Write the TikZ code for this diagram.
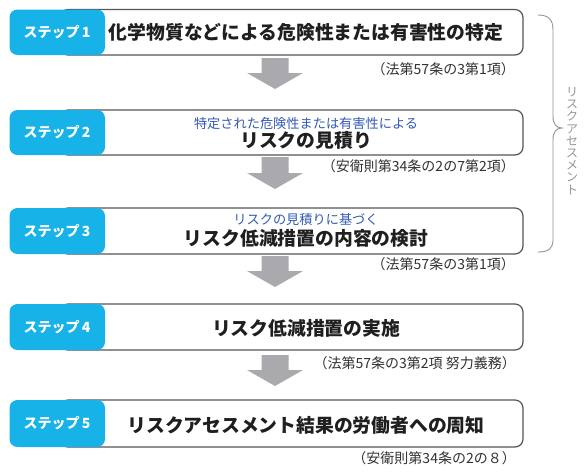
\documentclass[tikz,border=0pt]{standalone}
\usepackage{fontspec}
\setmainfont{Noto Sans CJK JP}
\definecolor{stepblue}{RGB}{22,178,232}
\definecolor{subblue}{RGB}{50,90,180}
\definecolor{arrowgray}{RGB}{170,170,174}
\definecolor{boxline}{RGB}{85,85,90}
\definecolor{notegray}{RGB}{50,50,50}
\definecolor{bracegray}{RGB}{150,150,150}
\tikzset{
  stepbox/.style={fill=stepblue, rounded corners=8pt},
  stepnum/.style={text=white, font=\bfseries\fontsize{14}{16}\selectfont, inner sep=0pt},
  titlebox/.style={draw=boxline, line width=1.2pt, fill=white, rounded corners=8pt},
  titletext/.style={font=\bfseries\fontsize{18.8}{20}\selectfont, text=black!88, inner sep=0pt},
  subtext/.style={font=\fontsize{13.2}{15}\selectfont, text=subblue, inner sep=0pt},
  notetext/.style={font=\fontsize{14}{16}\selectfont, text=notegray, inner sep=0pt, anchor=east},
  downarrow/.style={fill=arrowgray},
}
\newcommand{\stepdraw}[3]{%
  \draw[titlebox] (60,#1) rectangle (523,#2);
  \fill[stepbox] (9.5,#1) rectangle (105,#2);
  \node[stepnum] (#3) at (57,{(#1+#2)/2}) {ステップ\,#3};
}
\newcommand{\arrowdraw}[3]{%
  \coordinate (#3) at (275,#1);
  \fill[downarrow] ($(#3)+(-13.5,0)$) -- ($(#3)+(13.5,0)$) -- ($(#3)+(13.5,#2-#1-16)$) -- ($(#3)+(28,#2-#1-16)$) -- ($(#3)+(0,#2-#1)$) -- ($(#3)+(-28,#2-#1-16)$) -- ($(#3)+(-13.5,#2-#1-16)$) -- cycle;
}
\usetikzlibrary{calc}
\begin{document}
\begin{tikzpicture}[x=1pt,y=-1pt]
\useasboundingbox (0,0) rectangle (588,474);
\fill[white] (0,0) rectangle (588,474);

% step 1
\stepdraw{9.5}{55}{1}
\node[titletext] (t1) at (306,32) {化学物質などによる危険性または有害性の特定};
\node[notetext] (n1) at (515,69) {（法第57条の3第1項）};

% step 2
\stepdraw{110}{155}{2}
\node[subtext] (s2) at (306,124) {特定された危険性または有害性による};
\node[titletext] (t2) at (306,140) {リスクの見積り};
\node[notetext] (n2) at (515,166) {（安衛則第34条の2の7第2項）};

% step 3
\stepdraw{208}{254}{3}
\node[subtext] (s3) at (306,220) {リスクの見積りに基づく};
\node[titletext] (t3) at (306,238) {リスク低減措置の内容の検討};
\node[notetext] (n3) at (515,264) {（法第57条の3第1項）};

% step 4
\stepdraw{304}{350}{4}
\node[titletext] (t4) at (306,328) {リスク低減措置の実施};
\node[notetext] (n4) at (516,363) {（法第57条の3第2項 努力義務）};

% step 5
\stepdraw{400}{447}{5}
\node[titletext] (t5) at (306,425) {リスクアセスメント結果の労働者への周知};
\node[notetext] (n5) at (516,458) {（安衛則第34条の2の８）};

% arrows
\arrowdraw{58}{89}{a1}
\arrowdraw{157}{189}{a2}
\arrowdraw{256}{287}{a3}
\arrowdraw{355}{386}{a4}

% brace
\draw[bracegray, line width=0.9pt] (538,15) .. controls (549,15) and (553,20) .. (553,30) -- (553,116) .. controls (553,124) and (556,128) .. (562,128) .. controls (556,128) and (553,132) .. (553,140) -- (553,240) .. controls (553,248) and (549,252) .. (538,252);
\node[text=bracegray, font=\fontsize{12}{12.2}\selectfont, align=center, inner sep=0pt] (ra) at (572,141) {リ\\ス\\ク\\ア\\セ\\ス\\メ\\ン\\ト};
\end{tikzpicture}
\end{document}
